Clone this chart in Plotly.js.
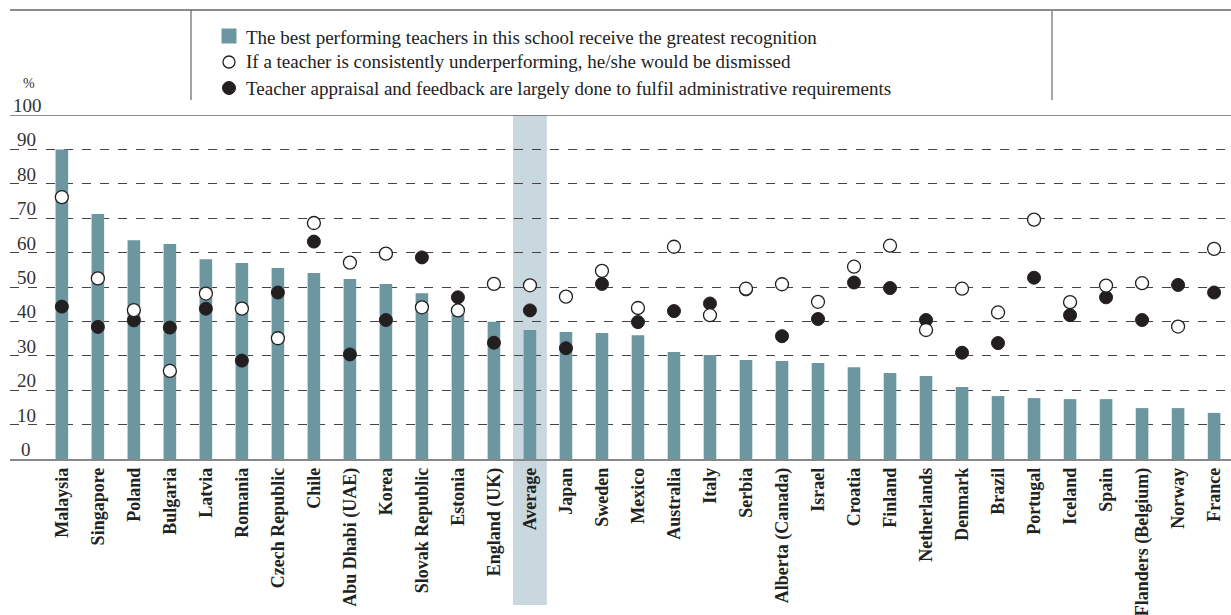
<!DOCTYPE html>
<html>
<head>
<meta charset="utf-8">
<script src="https://cdn.plot.ly/plotly-3.0.1.min.js"></script>
<style>html,body{margin:0;padding:0;background:#fff;}#chart{width:1231px;height:615px;}</style>
</head>
<body>
<div id="chart"></div>
<script>
const categories = ["Malaysia","Singapore","Poland","Bulgaria","Latvia","Romania","Czech Republic","Chile","Abu Dhabi (UAE)","Korea","Slovak Republic","Estonia","England (UK)","Average","Japan","Sweden","Mexico","Australia","Italy","Serbia","Alberta (Canada)","Israel","Croatia","Finland","Netherlands","Denmark","Brazil","Portugal","Iceland","Spain","Flanders (Belgium)","Norway","France"];
const recognition = [90.0,71.2,63.6,62.5,58.1,57.0,55.5,54.1,52.3,50.9,48.2,42.3,39.9,37.5,36.9,36.6,36.0,31.1,30.2,28.8,28.5,27.9,26.7,25.0,24.1,20.9,18.3,17.7,17.4,17.4,14.8,14.8,13.4];
const dismissed = [76.1,52.5,43.3,25.6,48.1,43.7,35.1,68.6,57.1,59.7,44.1,43.2,50.9,50.5,47.2,54.7,43.9,61.7,41.8,49.5,50.8,45.7,55.9,62.0,37.5,49.5,42.6,69.6,45.6,50.4,51.1,38.5,61.1];
const administrative = [44.3,38.4,40.3,38.2,43.7,28.6,48.4,63.2,30.4,40.4,58.6,47.0,33.8,43.2,32.2,50.9,39.8,43.0,45.2,49.3,35.7,40.7,51.3,49.7,40.4,30.9,33.7,52.7,41.8,47.0,40.4,50.6,48.4];
const yTicks = [0,10,20,30,40,50,60,70,80,90,100];
const seriesNames = ["The best performing teachers in this school receive the greatest recognition","If a teacher is consistently underperforming, he/she would be dismissed","Teacher appraisal and feedback are largely done to fulfil administrative requirements"];
const highlight = "Average";

const FONT = "Liberation Serif";
const BAR = "#6c96a0", INK = "#231f20";
const tickText = categories.map(c => c === highlight ? "<b>" + c + "</b>" : c);
const hIdx = categories.indexOf(highlight);

// plot geometry (pixels)
const L = 10, T = 115, W = 1221, H = 344;
const py = px => (T + H - px) / H;
const pxX = px => (px - L) / W;

const traces = [
  {type:"bar", x:categories, y:recognition, name:seriesNames[0], marker:{color:BAR}},
  {type:"scatter", mode:"markers", x:categories, y:administrative, name:seriesNames[2], marker:{color:INK, size:13, line:{color:INK, width:1}}},
  {type:"scatter", mode:"markers", x:categories, y:dismissed, name:seriesNames[1], marker:{color:"#ffffff", size:13, line:{color:INK, width:1.3}}}
];

const annotations = yTicks.map(v => ({
  xref:"paper", yref:"y", x:0, y:v, xanchor:"left", yanchor:"bottom",
  xshift: v === 100 ? 1 : (v === 0 ? 9 : 5), yshift: -3,
  text:String(v), showarrow:false, font:{family:FONT, size:19, color:"#333"}
}));
annotations.push({xref:"paper", yref:"paper", x:0, y:py(83), xanchor:"left", yanchor:"middle", xshift:11, text:"%", showarrow:false, font:{family:FONT, size:14, color:"#333"}});

// manual legend
const legendRows = [37, 62, 88];
seriesNames.forEach((n, i) => {
  annotations.push({xref:"paper", yref:"paper", x:pxX(244), y:py(legendRows[i]), xanchor:"left", yanchor:"middle",
    text:n, showarrow:false, font:{family:FONT, size:19, color:"#222"}});
});

const shapes = [
  {type:"rect", xref:"x", yref:"paper", x0:hIdx-0.47, x1:hIdx+0.47, y0:py(605), y1:1, fillcolor:"#c9d8de", line:{width:0}, layer:"below"},
  {type:"line", xref:"paper", yref:"y", x0:0, x1:1, y0:100, y1:100, line:{color:"#666", width:1.6}},
  {type:"line", xref:"paper", yref:"paper", x0:0, x1:1, y0:py(10), y1:py(10), line:{color:"#666", width:1.6}},
  {type:"line", xref:"paper", yref:"paper", x0:pxX(191), x1:pxX(191), y0:py(10), y1:py(100), line:{color:"#666", width:1.2}},
  {type:"line", xref:"paper", yref:"paper", x0:pxX(1052), x1:pxX(1052), y0:py(10), y1:py(100), line:{color:"#888", width:1.5}},
  // legend symbols
  {type:"rect", xref:"paper", yref:"paper", x0:pxX(221.5), x1:pxX(236.5), y0:py(28.5), y1:py(43.5), fillcolor:BAR, line:{width:0}},
  {type:"circle", xref:"paper", yref:"paper", x0:pxX(223), x1:pxX(235), y0:py(56), y1:py(68), fillcolor:"#fff", line:{color:INK, width:1.3}},
  {type:"circle", xref:"paper", yref:"paper", x0:pxX(222.5), x1:pxX(235.5), y0:py(81.5), y1:py(94.5), fillcolor:INK, line:{color:INK, width:1}}
];

const layout = {
  width:1231, height:615,
  margin:{l:L, r:0, t:T, b:615-T-H},
  paper_bgcolor:"#fff", plot_bgcolor:"rgba(0,0,0,0)",
  bargap:0.65,
  showlegend:false,
  xaxis:{type:"category", range:[-1.44, 32.47], tickangle:-90, tickvals:categories, ticktext:tickText,
         tickfont:{family:FONT, size:18, color:"#222", weight:"bold"}, showgrid:false, showline:true, linecolor:"#888", linewidth:1.5,
         ticks:"", fixedrange:true},
  yaxis:{range:[0,100], tickvals:[10,20,30,40,50,60,70,80,90], showticklabels:false, showgrid:true, gridcolor:"#444",
         griddash:"dash", gridwidth:1, zeroline:false, showline:false, ticks:"", fixedrange:true},
  annotations:annotations,
  shapes:shapes,
  font:{family:FONT}
};

Plotly.newPlot("chart", traces, layout, {displayModeBar:false, staticPlot:true});
</script>
</body>
</html>
